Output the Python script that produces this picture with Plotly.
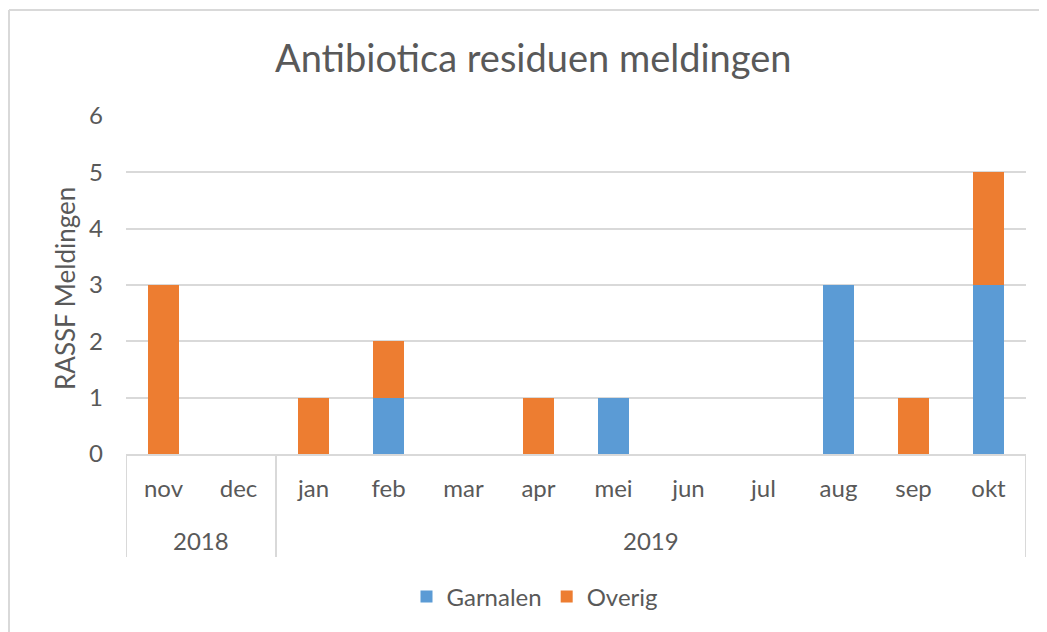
import plotly.graph_objects as go

years = ["2018", "2018", "2019", "2019", "2019", "2019", "2019", "2019", "2019", "2019", "2019", "2019"]
months = ["nov", "dec", "jan", "feb", "mar", "apr", "mei", "jun", "jul", "aug", "sep", "okt"]
garnalen = [0, 0, 0, 1, 0, 0, 1, 0, 0, 3, 0, 3]
overig = [3, 0, 1, 1, 0, 1, 0, 0, 0, 0, 1, 2]
y_ticks = [0, 1, 2, 3, 4, 5, 6]

BLUE = "#5B9BD5"
ORANGE = "#ED7D31"
GRID = "#D9D9D9"
TEXT = "#595959"
FONT = "Lato"

OFF = 8  # page body margin
W, H = 1047 - OFF, 632 - OFF
L, R, T, B = 126 - OFF, 21, 116 - OFF, 178
PW, PH = W - L - R, H - T - B

def px_x(p):
    return (p - OFF - L) / PW

def px_y(p):
    return (H - B - (p - OFF)) / PH

fig = go.Figure()
fig.add_trace(go.Bar(x=months, y=garnalen, name="Garnalen", marker=dict(color=BLUE, line=dict(width=0))))
fig.add_trace(go.Bar(x=months, y=overig, name="Overig", marker=dict(color=ORANGE, line=dict(width=0))))

# year group labels and dividers
groups = []
for i, yv in enumerate(years):
    if not groups or groups[-1][0] != yv:
        groups.append([yv, i, i])
    else:
        groups[-1][2] = i

shapes = []
annotations = []
div_bottom = px_y(557)
for yv, s, e in groups:
    annotations.append(dict(x=(s + e) / 2, y=px_y(540), xref="x", yref="paper", text=yv,
                            showarrow=False, font=dict(family=FONT, size=24, color=TEXT),
                            xanchor="center", yanchor="middle"))
    shapes.append(dict(type="line", xref="x", yref="paper", x0=s - 0.5, x1=s - 0.5, y0=0, y1=div_bottom,
                       line=dict(color=GRID, width=2)))
shapes.append(dict(type="line", xref="x", yref="paper", x0=len(months) - 0.5, x1=len(months) - 0.5,
                   y0=0, y1=div_bottom, line=dict(color=GRID, width=2)))

# outer chart border
shapes.append(dict(type="line", xref="paper", yref="paper", x0=px_x(9), x1=px_x(1060), y0=px_y(10), y1=px_y(10),
                   line=dict(color=GRID, width=2)))
shapes.append(dict(type="line", xref="paper", yref="paper", x0=px_x(9), x1=px_x(9), y0=px_y(10), y1=px_y(650),
                   line=dict(color=GRID, width=2)))

annotations.append(dict(x=px_x(533), y=px_y(57), xref="paper", yref="paper", text="Antibiotica residuen meldingen",
                        showarrow=False, font=dict(family=FONT, size=38, color=TEXT),
                        xanchor="center", yanchor="middle"))
annotations.append(dict(x=px_x(65), y=px_y(288), xref="paper", yref="paper", text="RASSF Meldingen",
                        showarrow=False, textangle=-90, font=dict(family=FONT, size=26, color=TEXT),
                        xanchor="center", yanchor="middle"))

fig.update_layout(
    width=W, height=H,
    margin=dict(l=L, r=R, t=T, b=B),
    barmode="stack",
    bargap=0.59,
    plot_bgcolor="white",
    paper_bgcolor="white",
    showlegend=True,
    legend=dict(orientation="h", x=px_x(535), y=px_y(597), xanchor="center", yanchor="middle",
                font=dict(family=FONT, size=24, color=TEXT), itemwidth=30, traceorder="normal",
                itemsizing="constant"),
    shapes=shapes,
    annotations=annotations,
    xaxis=dict(type="category", showgrid=False, showline=True, linecolor=GRID, linewidth=2,
               ticks="", tickfont=dict(family=FONT, size=24, color=TEXT), ticklabelstandoff=12,
               range=[-0.5, len(months) - 0.5], fixedrange=True),
    yaxis=dict(range=[0, 6], tickvals=y_ticks, showgrid=True, gridcolor=GRID, gridwidth=2,
               zeroline=False, showline=False, ticks="", ticklabelstandoff=22,
               tickfont=dict(family=FONT, size=24, color=TEXT)),
)

fig.write_html("out.html")
